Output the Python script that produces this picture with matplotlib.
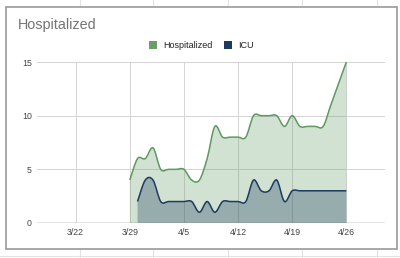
import matplotlib
matplotlib.use('Agg')
import matplotlib.pyplot as plt
import matplotlib.dates as mdates
from matplotlib.path import Path
from matplotlib.patches import PathPatch, Rectangle
from matplotlib.lines import Line2D
import numpy as np
import pandas as pd

plt.rcParams['font.family'] = ['Liberation Sans', 'DejaVu Sans']

# daily counts
hosp_start = '2020-03-29'
hosp_vals = [4, 6, 6, 7, 5, 5, 5, 5, 4, 4, 6, 9, 8, 8, 8, 8, 10, 10, 10, 10,
             9, 10, 9, 9, 9, 9, 11, 13, 15]
icu_start = '2020-03-30'
icu_vals = [2, 4, 4, 2, 2, 2, 2, 2, 1, 2, 1, 2, 2, 2, 2, 4, 3, 3, 4, 2, 3,
            3, 3, 3, 3, 3, 3, 3]
tick_dates = ['2020-03-22', '2020-03-29', '2020-04-05', '2020-04-12',
              '2020-04-19', '2020-04-26']
tick_labels = ['3/22', '3/29', '4/5', '4/12', '4/19', '4/26']
y_ticks = [0, 5, 10, 15]

green = '#5f9960'
navy = '#1d3a60'

W, H = 400, 258


def smooth_path(x, y, closed_fill=False):
    # catmull-rom as cubic beziers
    pts = np.column_stack([x, y])
    n = len(pts)
    verts = []
    codes = []
    if closed_fill:
        verts += [(x[0], 0), tuple(pts[0])]
        codes += [Path.MOVETO, Path.LINETO]
    else:
        verts.append(tuple(pts[0]))
        codes.append(Path.MOVETO)
    for i in range(n - 1):
        p0 = pts[i - 1] if i > 0 else pts[i]
        p1 = pts[i]
        p2 = pts[i + 1]
        p3 = pts[i + 2] if i + 2 < n else pts[i + 1]
        c1 = p1 + (p2 - p0) / 6.0
        c2 = p2 - (p3 - p1) / 6.0
        verts += [tuple(c1), tuple(c2), tuple(p2)]
        codes += [Path.CURVE4] * 3
    if closed_fill:
        verts += [(x[-1], 0), (x[0], 0)]
        codes += [Path.LINETO, Path.CLOSEPOLY]
    return Path(verts, codes)


fig = plt.figure(figsize=(W / 100, H / 100), dpi=100)

# spreadsheet cells behind the chart
for gx in [80, 153, 228, 302, 377]:
    fig.add_artist(Line2D([gx / W, gx / W], [0, 1], color='#e3e3e3', lw=0.8,
                          zorder=-2))
fig.add_artist(Line2D([0, 1], [1 - 256 / H, 1 - 256 / H], color='#e3e3e3',
                      lw=0.8, zorder=-2))
fig.add_artist(Rectangle((5.5 / W, 1 - 248.5 / H), 391.5 / W, 242 / H,
                         transform=fig.transFigure, facecolor='white',
                         edgecolor='#9a9a9a', lw=1.2, zorder=-1))

ax = fig.add_axes([37 / W, 1 - 223 / H, 348 / W, 161 / H])
ax.set_facecolor('none')
ax.set_zorder(1)

d0 = mdates.date2num(pd.Timestamp(tick_dates[0]))
hx = mdates.date2num(pd.date_range(hosp_start, periods=len(hosp_vals)))
ix = mdates.date2num(pd.date_range(icu_start, periods=len(icu_vals)))

ax.add_patch(PathPatch(smooth_path(hx, hosp_vals, True), facecolor=green,
                       alpha=0.28, edgecolor='none', zorder=2))
ax.add_patch(PathPatch(smooth_path(hx, hosp_vals), facecolor='none',
                       edgecolor=green, lw=1.1, zorder=4))
ax.add_patch(PathPatch(smooth_path(ix, icu_vals, True), facecolor=navy,
                       alpha=0.32, edgecolor='none', zorder=3))
ax.add_patch(PathPatch(smooth_path(ix, icu_vals), facecolor='none',
                       edgecolor=navy, lw=1.1, zorder=5))

ax.set_xlim(d0 - 5, d0 + 40)
ax.set_ylim(0, 15)
ax.set_xticks(mdates.date2num(pd.to_datetime(tick_dates)))
ax.set_xticklabels(tick_labels)
ax.set_yticks(y_ticks)
ax.grid(True, color='#d4d4d4', lw=0.7, zorder=0)
ax.set_axisbelow(True)
ax.axhline(0, color='#7a7a7a', lw=1.0, zorder=6)
for s in ax.spines.values():
    s.set_visible(False)
ax.tick_params(length=0, labelsize=6.3, labelcolor='#444444', pad=3.8)

fig.text(18 / W, 1 - 24.5 / H, 'Hospitalized', fontsize=10.4, color='#757575',
         va='center', ha='left', zorder=3)

# legend
fig.add_artist(Rectangle((149 / W, 1 - 49 / H), 8 / W, 8 / H,
                         transform=fig.transFigure, facecolor='#6a9f6a',
                         edgecolor='none', zorder=3))
fig.text(163 / W, 1 - 45 / H, 'Hospitalized', fontsize=6.5, color='#222222',
         va='center', ha='left', zorder=3)
fig.add_artist(Rectangle((224 / W, 1 - 49 / H), 8 / W, 8 / H,
                         transform=fig.transFigure, facecolor=navy,
                         edgecolor='none', zorder=3))
fig.text(238 / W, 1 - 45 / H, 'ICU', fontsize=6.5, color='#222222',
         va='center', ha='left', zorder=3)

fig.savefig('out.png', dpi=100)
